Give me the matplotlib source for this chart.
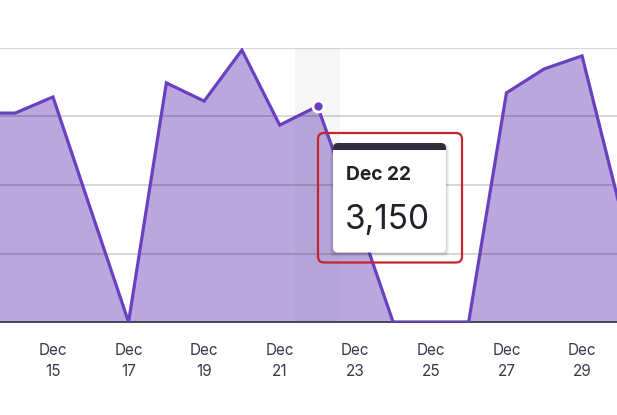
import matplotlib
matplotlib.use("Agg")
import matplotlib.pyplot as plt
from matplotlib.patches import FancyBboxPatch, Rectangle
from matplotlib.transforms import IdentityTransform

plt.rcParams['font.family'] = ['Inter', 'DejaVu Sans']

# Data
days = [13, 14, 15, 16, 17, 18, 19, 20, 21, 22, 23, 24, 25, 26, 27, 28, 29, 30]
values = [3050, 3050, 3285, 1640, 0, 3490, 3225, 3970, 2875, 3150, 1605, 0, 0, 0,
          3345, 3695, 3885, 1680]
tick_days = [15, 17, 19, 21, 23, 25, 27, 29]
tick_labels = ["Dec\n15", "Dec\n17", "Dec\n19", "Dec\n21", "Dec\n23", "Dec\n25", "Dec\n27", "Dec\n29"]
y_grid = [1000, 2000, 3000, 4000]
hover_day = 22
hover_label = "Dec 22"
hover_value = "3,150"

W, H = 617, 415
fig = plt.figure(figsize=(W / 100, H / 100), dpi=100)
fig.patch.set_facecolor("white")

ax = fig.add_axes([0, (H - 322) / H, 1, (322 - 48) / H])
ax.set_facecolor("none")
ax.set_xlim(13.598, 29.925)
ax.set_ylim(0, 4000)

fill_c = "#b9a7de"
line_c = "#6a40c0"

ax.fill_between(days, values, 0, color=fill_c, lw=0, zorder=1)
for g in y_grid:
    ax.axhline(g, color="black", alpha=0.17, lw=1.3, zorder=2)
ax.axvspan(hover_day - 0.6, hover_day + 0.6, color="#808080", alpha=0.07, lw=0, zorder=2.5)
ax.plot(days, values, color=line_c, lw=2.3, zorder=3, solid_joinstyle="miter")
hv = values[days.index(hover_day)]
ax.plot([hover_day], [hv], marker="o", ms=8, mfc=line_c, mec="white", mew=2, zorder=4, clip_on=False)

for s in ["top", "left", "right"]:
    ax.spines[s].set_visible(False)
ax.spines["bottom"].set_color("#3d3850")
ax.spines["bottom"].set_linewidth(1.3)
ax.spines["bottom"].set_zorder(2.8)
ax.set_yticks([])
ax.set_xticks(tick_days)
ax.set_xticklabels(tick_labels, fontsize=11, color="#3a3748", linespacing=1.55)
ax.tick_params(axis="x", length=0, pad=15)

ident = IdentityTransform()


def px_box(x0, y0, x1, y1, **kw):
    # pixel coords from top-left
    return FancyBboxPatch((x0, H - y1), x1 - x0, y1 - y0, transform=ident, **kw)


# tooltip shadow
for i, a in enumerate([0.05, 0.05, 0.05]):
    d = i + 1
    fig.patches.append(px_box(333 - d, 143 + 1, 446 + d, 252.5 + d + 1,
                              boxstyle="round,pad=0,rounding_size=5", fc="black", ec="none", alpha=a, zorder=10))
card = px_box(333, 143, 446, 252.5, boxstyle="round,pad=0,rounding_size=5", fc="white", ec="none", zorder=11)
fig.patches.append(card)
top = px_box(333, 143, 446, 252.5, boxstyle="round,pad=0,rounding_size=5", fc="#2f2c3f", ec="none", zorder=12)
fig.patches.append(top)
clip = Rectangle((333, H - 149.5), 113, 6.5, transform=ident)
top.set_clip_path(clip)

red = px_box(318, 133, 462, 262.5, boxstyle="round,pad=0,rounding_size=6", fc="none", ec="#c1272d", lw=1.6, zorder=13)
fig.patches.append(red)

fig.text(346 / W, (H - 180) / H, hover_label, fontsize=13.8, fontweight="bold", color="#222028",
         va="baseline", ha="left", zorder=14)
fig.text(345 / W, (H - 229) / H, hover_value, fontsize=24, color="#222028",
         va="baseline", ha="left", zorder=14)

fig.savefig("out.png", dpi=100, facecolor="white")
